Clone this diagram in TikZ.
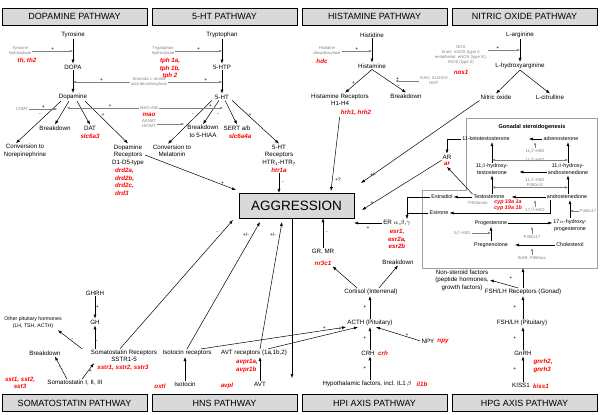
\documentclass[tikz,border=0pt]{standalone}
\usepackage{fontspec}
\setmainfont{Liberation Sans}
\usetikzlibrary{arrows.meta}
\definecolor{headgrey}{RGB}{217,217,217}
\definecolor{enzgrey}{RGB}{128,128,128}
\definecolor{boxgrey}{RGB}{160,160,160}
\tikzset{
  lbl/.style={font=\fontsize{6.2}{7.5}\selectfont, align=center, inner sep=1pt},
  slbl/.style={font=\fontsize{5.4}{6.6}\selectfont, align=center, inner sep=1pt},
  enz/.style={font=\fontsize{4.2}{5}\selectfont, text=enzgrey, align=center, inner sep=1pt},
  gene/.style={font=\fontsize{6.2}{7.5}\selectfont\bfseries\itshape, text=red, align=left, inner sep=1pt},
  head/.style={draw, fill=headgrey, minimum width=145pt, minimum height=17pt, font=\fontsize{9}{10}\selectfont},
  aggbox/.style={draw, fill=headgrey, minimum width=115pt, minimum height=25pt, font=\fontsize{13.5}{15}\selectfont},
  arr/.style={-{Latex[length=4pt,width=3pt]}, line width=0.5pt},
  garr/.style={-{Latex[length=3pt,width=2.5pt]}, draw=enzgrey, line width=0.4pt},
  gdarr/.style={{Latex[length=3pt,width=2.5pt]}-{Latex[length=3pt,width=2.5pt]}, draw=enzgrey, line width=0.4pt},
  sgn/.style={font=\fontsize{5}{6}\selectfont, inner sep=0.5pt},
}
\begin{document}
\begin{tikzpicture}[x=1pt,y=-1pt]
\useasboundingbox (0,0) rectangle (600,415);

% pathway headers
\node[head] (hdopa) at (74.5,16.5) {DOPAMINE PATHWAY};
\node[head] (hsht) at (224.5,16.5) {5-HT PATHWAY};
\node[head] (hhis) at (374.5,16.5) {HISTAMINE PATHWAY};
\node[head] (hno) at (524.5,16.5) {NITRIC OXIDE PATHWAY};
\node[head] (hsst) at (74.5,403) {SOMATOSTATIN PATHWAY};
\node[head] (hhns) at (224.5,403) {HNS PATHWAY};
\node[head] (hhpi) at (374.5,403) {HPI AXIS PATHWAY};
\node[head] (hhpg) at (524.5,403) {HPG AXIS PATHWAY};

\node[aggbox] (aggr) at (296.5,205.5) {AGGRESSION};

% dopamine
\node[lbl] (tyr) at (73,35) {Tyrosine};
\node[lbl] (dopa) at (73,67) {DOPA};
\node[lbl] (dopamine) at (73,97) {Dopamine};
\node[enz] (tyrh) at (20,51) {Tyrosine\\hydroxylase};
\node[gene] (thg) at (27,61) {th, th2};
\node[enz] (aadc) at (149,82) {Aromatic L-amino\\acid decarboxylase};
\node[enz] (comt) at (22,109) {COMT};
\node[enz] (mao) at (149,108) {MAO-A/B};
\node[gene] (maog) at (149,115) {mao};
\node[enz] (aanat) at (149,124) {AANAT\\HIOMT};
\node[lbl] (norepi) at (25,151) {Conversion to\\Norepinephrine};
\node[lbl] (dbreak) at (55,128) {Breakdown};
\node[lbl] (dat) at (90,128) {DAT};
\node[gene] (datg) at (90,136) {slc6a3};
\node[lbl] (drd) at (128,155) {Dopamine\\Receptors\\D1-D5-type};
\node[gene, anchor=north west] (drdg) at (114,167) {drd2a,\\drd2b,\\drd2c,\\drd3};

\draw[arr] (tyr) -- (dopa);
\draw[arr] (dopa) -- (dopamine);
\draw[garr] (tyrh.east) -- (tyrh.east -| tyr) node[sgn, midway, above] (s1) {+};
\draw[garr] (aadc.west) -- (aadc.west -| dopa) node[sgn, midway, above] (s2) {+};
\draw[arr] ([xshift=-12pt]dopamine.south) -- ([xshift=-9pt]norepi.north);
\draw[arr] ([xshift=-4pt]dopamine.south) -- (dbreak.north);
\draw[arr] ([xshift=4pt]dopamine.south) -- (dat.north);
\draw[arr] ([xshift=12pt]dopamine.south) -- (drd.north);
\draw[garr] (comt.east) -- ++(28,0) node[sgn, midway, above] (s3) {+};
\draw[garr] (mao.west) -- ++(-72,0) node[sgn, pos=0.4, above] (s4) {+};
\node[sgn] (s5) at (40,115) {-};
\node[sgn] (s6) at (103,115) {+};

% 5-HT
\node[lbl] (trp) at (222,35) {Tryptophan};
\node[lbl] (htp) at (222,67) {5-HTP};
\node[lbl] (sht) at (222,97) {5-HT};
\node[enz] (tph) at (163,51) {Tryptophan\\hydroxylase};
\node[gene, align=center] (tphg) at (170,68.5) {tph 1a,\\tph 1b,\\tph 2};
\node[lbl] (mel) at (172,151) {Conversion to\\Melatonin};
\node[lbl] (sbreak) at (203,131.5) {Breakdown\\to 5-HIAA};
\node[lbl] (sert) at (237,128) {SERT a/b};
\node[gene] (sertg) at (240,136) {slc6a4a};
\node[lbl] (htr) at (279,155) {5-HT\\Receptors\\HTR\textsubscript{1}-HTR\textsubscript{7}};
\node[gene] (htrg) at (279,170) {htr1a};

\draw[arr] (trp) -- (htp);
\draw[arr] (htp) -- (sht);
\draw[garr] (tph.east) -- (tph.east -| trp) node[sgn, midway, above] (s7) {+};
\draw[garr] (aadc.east) -- (aadc.east -| htp) node[sgn, pos=0.7, above] (s8) {+};
\draw[arr] ([xshift=-10pt]sht.south) -- ([xshift=-4pt]mel.north);
\draw[arr] ([xshift=-3pt]sht.south) -- (sbreak.north);
\draw[arr] ([xshift=3pt]sht.south) -- (sert.north);
\draw[arr] ([xshift=10pt]sht.south) -- (htr.north);
\draw[garr] (mao.east) -- ++(64,0) node[sgn, pos=0.8, above] (s9) {+};
\draw[garr] (aanat.east) -- ++(27,0);
\node[sgn] (s10) at (193,115) {-};
\node[sgn] (s11) at (218,115) {-};
\node[sgn] (s12) at (250,115) {+};

% histamine
\node[lbl] (his) at (372,35) {Histidine};
\node[lbl] (hism) at (372,66) {Histamine};
\node[enz] (hdc) at (327,51) {Histidine\\decarboxylase};
\node[gene] (hdcg) at (322,61) {hdc};
\node[lbl] (hrec) at (340,100) {Histamine Receptors\\H1-H4};
\node[gene] (hrecg) at (356,113) {hrh1, hrh2};
\node[lbl] (hbreak) at (406,96) {Breakdown};
\node[enz] (dao) at (434,81) {DAO, ALD-DH\\HMT};

\draw[arr] (his) -- (hism);
\draw[garr] (hdc.east) -- (hdc.east -| his) node[sgn, midway, above] (s13) {+};
\draw[arr] (hism.south) -- ([xshift=5pt]hrec.north) node[sgn, pos=0.6, left] (s14) {+};
\draw[arr] (hism.south) -- (hbreak.north);
\draw[garr] (dao.west) -- ++(-24,0) node[sgn, pos=0.9, above] (s15) {+};
\node[sgn] (s16) at (399,87) {-};

% nitric oxide
\node[lbl] (larg) at (520,35) {L-arginine};
\node[lbl] (lhyd) at (520,66) {L-hydroxyarginine};
\node[enz] (nos) at (461,55) {NOS\\brain: nNOS (type I)\\endothelial: eNOS (type III),\\iNOS (type II)};
\node[gene] (nosg) at (461,72) {nos1};
\node[lbl] (no) at (496,97) {Nitric oxide};
\node[lbl] (lcit) at (550,97) {L-citrulline};
\coordinate (nosarr) at ([yshift=5pt]nos.east);

\draw[arr] (larg) -- (lhyd);
\draw[garr] (nosarr) -- (nosarr -| larg) node[sgn, pos=0.3, above] (s17) {+};
\draw[arr] (lhyd.south) -- (no.north);
\draw[arr] (lhyd.south) -- (lcit.north);

% gonadal steroidogenesis
\draw[boxgrey, line width=0.5pt] (466,118) -- (597,118) -- (597,268) -- (422,268) -- (422,190) -- (466,190) -- cycle;
\node[font=\fontsize{5.6}{6.6}\selectfont\bfseries] (gsteroid) at (532,127) {Gonadal steroidogenesis};
\node[slbl] (kt) at (486,139) {11-ketotestosterone};
\node[slbl] (adr) at (561,139) {adrenosterone};
\node[slbl] (ohT) at (492,169) {11$\beta$-hydroxy-\\testosterone};
\node[slbl] (ohA) at (568,169) {11$\beta$-hydroxy-\\androstenedione};
\node[slbl] (testo) at (489,197) {Testosterone};
\node[slbl] (andro) at (567,197) {androstenedione};
\node[slbl] (prog) at (491,223) {Progesterone};
\node[slbl] (ohP) at (570,225.5) {17$\alpha$-hydroxy-\\progesterone};
\node[slbl] (preg) at (491,245) {Pregnenolone};
\node[slbl] (chol) at (570,245) {Cholesterol};
\node[slbl] (estd) at (442,197) {Estradiol};
\node[slbl] (estn) at (439,213) {Estrone};
\node[lbl] (ar) at (447,157) {AR};
\node[gene] (arG) at (447,164) {ar};
\node[gene, align=center, font=\fontsize{5.4}{6.2}\selectfont\bfseries\itshape] (cypg) at (508,205) {cyp 19a 1a\\cyp 19a 1b};
\node[enz] (e1) at (535,151) {11$\beta$-HSD};
\node[enz] (e2) at (535,160) {11$\beta$-HSD};
\node[enz] (e3) at (535,182) {11$\beta$-HSD\\P450c11};
\node[enz] (e4) at (535,210) {17$\beta$-HSD};
\node[enz] (e5) at (478,203) {P450arom};
\node[enz] (e6) at (532,237) {P450c17};
\node[enz] (e7) at (588,211) {P450c17};
\node[enz] (e8) at (462,233) {3$\beta$-HSD};
\node[enz] (e9) at (532,258) {StAR, P450scc};

\draw[arr, shorten >=18pt] (adr.west) -- (kt.east);
\draw[arr] (ohT.north) -- (ohT.north |- kt.south);
\draw[arr] (ohA.north) -- (ohA.north |- adr.south);
\draw[arr, shorten >=10pt] ([yshift=-3pt]ohA.west) -- ([yshift=-3pt]ohT.east);
\draw[arr] (ohT.south |- testo.north) -- (ohT.south);
\draw[arr] (ohA.south |- andro.north) -- (ohA.south);
\draw[arr, shorten >=6pt] (andro.west) -- (testo.east);
\draw[arr] (prog.east) -- (prog.east -| ohP.west);
\draw[arr] (ohP.north) -- (ohP.north |- andro.south);
\draw[arr] (preg.north) -- (preg.north |- prog.south);
\draw[arr, shorten >=6pt] (chol.west) -- (preg.east);
\draw[arr] (testo.west) -- (estd.east);
\draw[arr] ([xshift=-17pt]andro.south) |- (estn.east);
\draw[arr] (kt.west) -| (ar.north);
\draw[arr] (testo.north west) -- (arG.south);
\draw[garr] (e1.north) -- (e1.north |- adr.south);
\draw[gdarr] (e2.west -| ohT) -- (e2.east -| ohA);
\draw[gdarr] (e3.south west -| ohT) -- (e3.south east -| ohA);
\draw[garr] (e4.north) -- (e4.north |- andro.south);
\draw[garr] (e6.north) -- (e6.north |- prog.south);
\draw[garr] (e7.west) -- (e7.west -| ohP);
\draw[garr] (e8.east) -- (e8.east -| preg);
\draw[garr] (e9.north) -- (e9.north |- chol.south);

% estrogen receptors
\node[lbl] (er) at (397,223) {ER $\alpha$,$\beta$,$\gamma$};
\node[gene, align=center] (erg) at (397,239) {esr1,\\esr2a,\\esr2b};
\coordinate (erin) at ([xshift=10pt]er.north);
\draw[arr] (estd.west) -| (erin);
\draw (estn.west) -- (erin |- estn.west);

% HPI axis
\node[lbl] (gr) at (323,252) {GR, MR};
\node[gene] (grg) at (323,263) {nr3c1};
\node[lbl] (cbreak) at (398,262) {Breakdown};
\node[lbl] (cort) at (371,292) {Cortisol (Interrenal)};
\node[lbl] (acth) at (370,323) {ACTH (Pituitary)};
\node[lbl] (crh) at (368,353) {CRH};
\node[gene] (crhg) at (383,353) {crh};
\node[lbl] (hyp) at (367,384) {Hypothalamic factors, incl. IL1\,$\beta$};
\node[gene] (hypg) at (422,384) {il1b};
\node[lbl] (npy) at (428,341) {NPY};
\node[gene] (npyg) at (443,341) {npy};

\draw[arr] ([xshift=-14pt]cort.north) -- (grg.south east);
\draw[arr] ([xshift=8pt]cort.north) -- (cbreak.south);
\draw[arr] (acth.north) -- (acth.north |- cort.south) node[sgn, midway, left=3pt] (s20) {+};
\draw[arr] (crh.north -| acth) -- (acth.south) node[sgn, midway, left=3pt] (s21) {+};
\draw[arr] (hyp.north -| acth) -- (crh.south -| acth) node[sgn, midway, left=3pt] (s22) {+};
\draw[arr] (npy.west) -- ([xshift=6pt]acth.south) node[sgn, pos=0.3, above] (s23) {+};

% HPG axis
\node[lbl] (kiss) at (521,385) {KISS1};
\node[gene] (kissg) at (541,386) {kiss1};
\node[lbl] (gnrh) at (523,353) {GnRH};
\node[gene] (gnrhg) at (543,366) {gnrh2,\\gnrh3};
\node[lbl] (fshlh) at (522,323) {FSH/LH (Pituitary)};
\node[lbl] (fshr) at (523,292) {FSH/LH Receptors (Gonad)};
\node[lbl] (nsf) at (462,280) {Non-steroid factors\\(peptide hormones,\\growth factors)};
\coordinate (sbot) at (523,268);

\draw[arr] (gnrh.south |- kiss.north) -- (gnrh.south) node[sgn, midway, left=6pt] (s24) {+};
\draw[arr] (gnrh.north) -- (gnrh.north |- fshlh.south) node[sgn, midway, left=6pt] (s25) {+};
\draw[arr] (gnrh.north |- fshlh.north) -- (gnrh.north |- fshr.south) node[sgn, midway, left=6pt] (s26) {+};
\draw[arr] ([xshift=-5pt]fshr.north) -- (nsf.east);
\draw[arr] (fshr.north) -- (sbot) node[sgn, pos=0.5, left=10pt] (s27) {+};

% somatostatin
\node[lbl] (ghrh) at (95,293) {GHRH};
\node[lbl] (gh) at (95,322) {GH};
\node[lbl, font=\fontsize{5.2}{7}\selectfont] (oph) at (33,323) {Other pituitary hormones\\(LH, TSH, ACTH)};
\node[lbl] (sstr) at (124,356) {Somatostatin Receptors\\SSTR1-5};
\node[gene] (sstrg) at (123,368) {sstr1, sstr2, sstr3};
\node[lbl] (ssbreak) at (45,353) {Breakdown};
\node[lbl] (sst) at (75,383) {Somatostatin I, II, III};
\node[gene, align=center] (sstg) at (20,383) {sst1, sst2,\\sst3};

\draw[arr] (ghrh) -- (gh) node[sgn, midway, right] (s28) {+};
\draw[arr] (sstr.north -| gh) -- (gh.south) node[sgn, pos=0.3, right] (s29) {-};
\draw[arr] ([xshift=-42pt]sstr.north) -- ([xshift=-5pt]oph.south east) node[sgn, pos=0.4, above] (s30) {-};
\draw[arr] ([xshift=-8pt]sst.north) -- ([xshift=10pt]ssbreak.south) node[sgn, midway, left] (s31) {-};
\draw[arr] ([xshift=7pt]sst.north) -- ([xshift=-30pt]sstr.south) node[sgn, midway, right] (s32) {+};

% HNS
\node[lbl] (isor) at (187,353) {Isotocin receptors};
\node[lbl] (iso) at (185,384) {Isotocin};
\node[gene] (oxtl) at (160,386) {oxtl};
\node[lbl] (avtr) at (254,353) {AVT receptors (1a,1b,2)};
\node[gene] (avtrg) at (247,366) {avpr1a,\\avpr1b};
\node[lbl] (avt) at (260,384) {AVT};
\node[gene] (avpl) at (227,386) {avpl};

\draw[arr] (iso.north) -- (iso.north |- isor.south);
\draw[arr] (avt.north) -- (avt.north |- avtr.south);
\draw[arr] ([xshift=14pt]isor.north) -- ([xshift=-24pt]acth.south) node[sgn, pos=0.85, above] (s33) {+};
\draw[arr] ([xshift=14pt]avtr.north) -- ([xshift=-12pt]acth.south) node[sgn, pos=0.8, above] (s34) {+};

% into aggression
\coordinate (aggDA) at (236,190);
\coordinate (aggHI) at (331,191);
\coordinate (aggNO) at (361,183);
\coordinate (aggAR) at (362,210);
\coordinate (aggSS) at (233,220);
\coordinate (aggIS) at (260,222);
\coordinate (aggAV) at (282,222);
\coordinate (aggout) at (292,378);

\draw[arr] (drd.east) -- (aggDA) node[sgn, pos=0.85, above] (s40) {+};
\draw[arr] (htrg.south) -- (htrg.south |- aggr.north) node[sgn, midway, right=2pt] (s41) {-};
\draw[arr] (hrecg.south west) -- (aggHI) node[sgn, pos=0.85, right=2pt] (s42) {+?};
\draw[arr] (no.south west) -- (aggNO) node[sgn, pos=0.93, above right] (s43) {+/-};
\draw[arr] (ar.south west) -- (aggAR) node[sgn, pos=0.9, above right] (s44) {+};
\draw[arr] (er.west) -- (er.west -| aggr.east) node[sgn, midway, below=3pt] (s45) {+};
\draw[arr] (gr.north) -- (gr.north |- aggr.south) node[sgn, midway, right=2pt] (s46) {-};
\draw[arr] ([xshift=-4pt]sstr.north) -- (aggSS) node[sgn, pos=0.9, left=3pt] (s47) {-};
\draw[arr] (isor.north) -- (aggIS) node[sgn, pos=0.9, left=3pt] (s48) {+/-};
\draw[arr] ([xshift=6pt]avtr.north) -- (aggAV) node[sgn, pos=0.9, left=3pt] (s49) {+/-};
\draw[arr] (aggr.south -| aggout) -- (aggout);
\end{tikzpicture}
\end{document}
